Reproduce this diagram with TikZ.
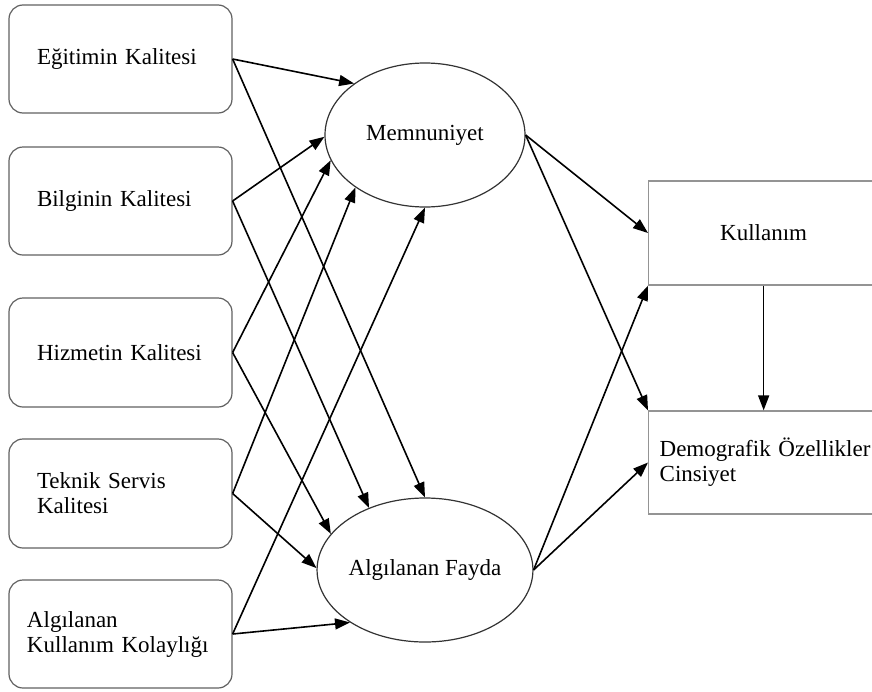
\documentclass[tikz,border=0pt]{standalone}
\usepackage{fontspec}
\setmainfont{Liberation Serif}
\usetikzlibrary{shapes.geometric,arrows.meta}
\begin{document}
\begin{tikzpicture}[x=1pt,y=-1pt,
  lbox/.style={draw=black!62, line width=1.2pt, rounded corners=14pt,
    minimum width=223pt, inner xsep=28pt, text width=167pt, align=left,
    font=\fontsize{23}{25}\selectfont},
  rbox/.style={draw=black!42, line width=1.3pt, anchor=west,
    inner xsep=11pt, text width=225pt, font=\fontsize{23}{25}\selectfont},
  ell/.style={draw=black!80, line width=1.2pt, ellipse, minimum width=200pt,
    minimum height=144pt, inner sep=0pt, font=\fontsize{23}{25}\selectfont},
  arr/.style={-{Triangle[length=15pt,width=11pt]}, line width=1.6pt, black}
]
\useasboundingbox (0,0) rectangle (872,691);

% left boxes
\node[lbox, minimum height=108pt] (A) at (120.5,59) {Eğitimin Kalitesi};
\node[lbox, minimum height=108pt] (B) at (120.5,201) {Bilginin Kalitesi};
\node[lbox, minimum height=109pt] (C) at (120.5,352.5) {Hizmetin Kalitesi};
\node[lbox, minimum height=109pt] (D) at (120.5,493.5) {Teknik Servis\\Kalitesi};
\node[lbox, minimum height=108pt, inner xsep=18pt, text width=187pt] (E) at (120.5,634) {Algılanan\\Kullanım Kolaylığı};

% ellipses
\node[ell] (M) at (425,135) {Memnuniyet};
\node[ell] (F) at (425,570) {Algılanan Fayda};

% right boxes
\node[rbox, minimum height=104pt, inner xsep=0pt, text width=230pt, align=center] (K) at (648,233) {Kullanım};
\node[rbox, minimum height=103pt, align=left] (G) at (648,462.5) {Demografik Özellikler\\Cinsiyet};

% arrows to Memnuniyet
\draw[arr] (A.east) -- (M.144);
\draw[arr] (B.east) -- (M.181);
\draw[arr] (C.east) -- (M.195);
\draw[arr] (D.east) -- (M.217);
\draw[arr] (E.east) -- (M.270);

% arrows to Algılanan Fayda
\draw[arr] (A.east) -- (F.90);
\draw[arr] (B.east) -- (F.132);
\draw[arr] (C.east) -- (F.159);
\draw[arr] (D.east) -- (F.179);
\draw[arr] (E.east) -- (F.215);

% arrows to right boxes
\draw[arr] (M.east) -- (K.west);
\draw[arr] (M.east) -- (G.north west);
\draw[arr] (F.east) -- (K.south west);
\draw[arr] (F.east) -- (G.west);
\draw[arr] (K.south) -- (K.south |- G.north);
\end{tikzpicture}
\end{document}
